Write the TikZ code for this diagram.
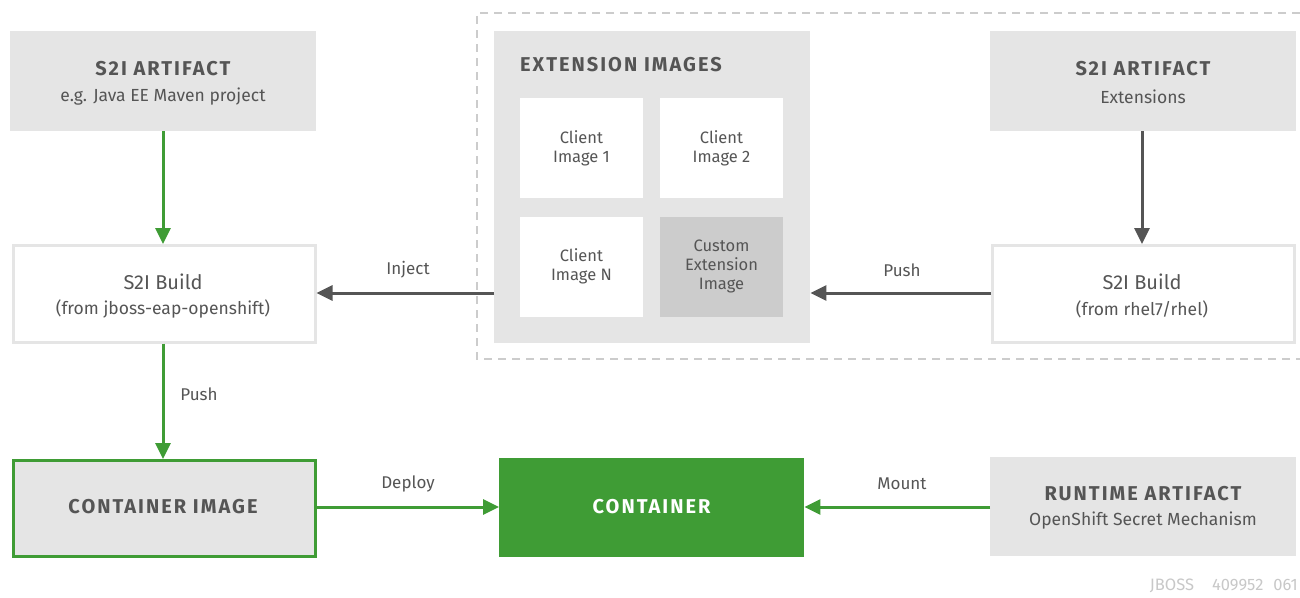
\documentclass[tikz,border=0pt]{standalone}
\usepackage{fontspec}
\setmainfont{Fira Sans}
\newfontfamily\ttlfont[LetterSpace=10]{Fira Sans}
\usetikzlibrary{arrows.meta}
\definecolor{rhgreen}{HTML}{3F9C35}
\definecolor{boxgray}{HTML}{E5E5E5}
\definecolor{custgray}{HTML}{CCCCCC}
\definecolor{txt}{HTML}{555555}
\definecolor{arrgray}{HTML}{555555}
\definecolor{dashgray}{HTML}{CCCCCC}
\definecolor{foot}{HTML}{C8C8C8}
\tikzset{
  graybox/.style={fill=boxgray, draw=none, anchor=north west, inner sep=0pt, minimum width=306pt, minimum height=100pt},
  whitebox/.style={fill=white, draw=boxgray, line width=2.5pt, anchor=north west, inner sep=0pt, minimum width=302pt, minimum height=97pt},
  cellbox/.style={fill=white, draw=none, anchor=north west, inner sep=0pt, minimum width=123pt, minimum height=100pt},
  ttl/.style={text=txt, font=\ttlfont\bfseries\fontsize{20}{23}\selectfont, inner sep=0pt},
  sub/.style={text=txt, font=\fontsize{17.5}{20}\selectfont, inner sep=0pt},
  lbl/.style={text=txt, font=\fontsize{17}{20}\selectfont, inner sep=0pt},
  cell/.style={text=txt, font=\fontsize{16.5}{19}\selectfont, align=center, inner sep=0pt},
  garrow/.style={draw=rhgreen, line width=3pt, -{Triangle[length=16pt,width=15pt]}},
  darrow/.style={draw=arrgray, line width=3pt, -{Triangle[length=16pt,width=15pt]}},
}
\begin{document}
\begin{tikzpicture}[x=1pt,y=-1pt]
\useasboundingbox[fill=white] (0,0) rectangle (1300,597);
% dashed group
\draw[dashgray, line width=2pt, dash pattern=on 8pt off 6pt] (1300,13) -| (477,359) -- (1300,359);
% left column
\node[graybox] (art1) at (10,31) {};
\node[ttl] (art1t) at (163,69) {S2I ARTIFACT};
\node[sub] (art1s) at (163,97) {e.g. Java EE Maven project};
\node[whitebox] (bld1) at (12,244) {};
\node[sub, font=\fontsize{20}{23}\selectfont] (bld1t) at (163,282) {S2I Build};
\node[sub] (bld1s) at (163,309) {(from jboss-eap-openshift)};
\node[graybox, draw=rhgreen, line width=3pt, minimum width=302pt, minimum height=96pt] (cimg) at (12,459) {};
\node[ttl] (cimgt) at (163,507) {CONTAINER IMAGE};
% middle
\node[graybox, minimum width=316pt, minimum height=312pt] (ext) at (494,31) {};
\node[ttl, anchor=west] (extt) at (520,65) {EXTENSION IMAGES};
\node[cellbox] (c1) at (520,98) {};
\node[cell] at (581.5,148) {Client\\Image 1};
\node[cellbox] (c2) at (660,98) {};
\node[cell] at (721.5,148) {Client\\Image 2};
\node[cellbox] (cn) at (520,217) {};
\node[cell] at (581.5,266) {Client\\Image N};
\node[cellbox, fill=custgray] (cu) at (660,217) {};
\node[cell] at (721.5,266) {Custom\\Extension\\Image};
\node[graybox, fill=rhgreen, minimum width=305pt, minimum height=99pt] (cont) at (499,458) {};
\node[ttl, text=white] (contt) at (651.5,507) {CONTAINER};
% right column
\node[graybox] (art2) at (990,31) {};
\node[ttl] (art2t) at (1143,69) {S2I ARTIFACT};
\node[sub] (art2s) at (1143,97) {Extensions};
\node[whitebox] (bld2) at (991,244) {};
\node[sub, font=\fontsize{20}{23}\selectfont] (bld2t) at (1142,282) {S2I Build};
\node[sub] (bld2s) at (1142,309) {(from rhel7/rhel)};
\node[graybox, minimum height=99pt] (run) at (990,457) {};
\node[ttl] (runt) at (1143,494) {RUNTIME ARTIFACT};
\node[sub] (runs) at (1143,521) {OpenShift Secret Mechanism};
% connectors
\draw[garrow] (art1.south -| 163,0) -- (bld1.north -| 163,0);
\draw[garrow] (bld1.south -| 163,0) -- (cimg.north -| 163,0);
\node[lbl] (lpush1) at (199,394) {Push};
\draw[darrow] (ext.west |- 0,293) -- (bld1.east |- 0,293);
\node[lbl] (linj) at (408,270) {Inject};
\draw[darrow] (bld2.west |- 0,293) -- (ext.east |- 0,293);
\node[lbl] (lpush2) at (902,270) {Push};
\draw[darrow] (art2.south -| 1142,0) -- (bld2.north -| 1142,0);
\draw[garrow] (cimg.east |- 0,507) -- (cont.west |- 0,507);
\node[lbl] (ldep) at (408,484) {Deploy};
\draw[garrow] (run.west |- 0,507) -- (cont.east |- 0,507);
\node[lbl] (lmnt) at (902,484) {Mount};
% footer
\node[text=foot, font=\fontsize{16.5}{19}\selectfont, anchor=east, inner sep=0pt] (foot) at (1298,586) {JBOSS\hspace{18pt}409952\hspace{10pt}061};
\end{tikzpicture}
\end{document}
